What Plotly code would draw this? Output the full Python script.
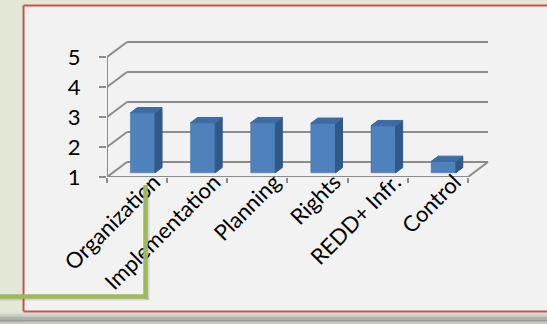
import plotly.graph_objects as go

categories = ["Organization", "Implementation", "Planning", "Rights", "REDD+ Infr.", "Control"]
values = [3.0, 2.67, 2.67, 2.65, 2.57, 1.38]
y_ticks = [1, 2, 3, 4, 5]

# 3D geometry (data units)
DX, DY = 0.333, 0.5      # depth offset of the back wall
D0, D1 = 0.28, 0.63      # bar front / back depth fractions
BW = 0.41                # bar width (category units)
BASE = 1
LOFF = 0.28              # label end offset from category centre

GRID = '#8C8C8C'
FRONT, SIDE, TOP = '#4F81BD', '#30598A', '#3D6BA3'

fig = go.Figure()
shapes = []


def dline(xs, ys, color=GRID, width=2):
    for k in range(len(xs) - 1):
        shapes.append(dict(type='line', xref='x', yref='y', x0=xs[k], y0=ys[k],
                           x1=xs[k + 1], y1=ys[k + 1], line=dict(color=color, width=width),
                           layer='below'))


def poly(xs, ys, color):
    fig.add_trace(go.Scatter(x=xs + [xs[0]], y=ys + [ys[0]], mode='lines', fill='toself',
                             fillcolor=color, line=dict(color=color, width=1),
                             hoverinfo='skip', showlegend=False, cliponaxis=False))


n = len(categories)
# back wall + side wall gridlines
for t in y_ticks:
    dline([0, DX, n + DX], [t, t + DY, t + DY])
# floor front edge and right edge
dline([0, n, n + DX], [BASE, BASE, BASE + DY])
# front vertical axis
dline([0, 0], [BASE, y_ticks[-1]])

# bars
ddx, ddy = (D1 - D0) * DX, (D1 - D0) * DY
fig.add_trace(go.Bar(x=[i + 0.5 + D0 * DX for i in range(n)],
                     y=[v - BASE for v in values],
                     base=[BASE + D0 * DY] * n, width=BW,
                     marker=dict(color=FRONT, line=dict(color='#44729F', width=0.5)),
                     showlegend=False, hoverinfo='skip', cliponaxis=False))
for i, v in enumerate(values):
    xl = i + 0.5 - BW / 2 + D0 * DX
    xr = xl + BW
    yb = BASE + D0 * DY
    yt = v + D0 * DY
    poly([xr, xr, xr + ddx, xr + ddx], [yb, yt, yt + ddy, yb + ddy], SIDE)
    poly([xl, xr, xr + ddx, xl + ddx], [yt, yt, yt + ddy, yt + ddy], TOP)

# ---- decorative frame (pixel -> paper conversions) ----
L, T, W, H = 107, 39, 385, 138


def px(x):
    return (x - L) / W


def py(y):
    return (T + H - y) / H


def rect(x0, y0, x1, y1, color, layer='below'):
    shapes.append(dict(type='rect', xref='paper', yref='paper', x0=px(x0), x1=px(x1),
                       y0=py(y1), y1=py(y0), fillcolor=color, line=dict(width=0), layer=layer))


def seg(x0, y0, x1, y1, color, width, layer='below'):
    shapes.append(dict(type='line', xref='paper', yref='paper', x0=px(x0), x1=px(x1),
                       y0=py(y0), y1=py(y1), line=dict(color=color, width=width), layer=layer))


rect(0, 0, 22.5, 324, '#E2E8D5')
rect(0, 0, 547, 4.5, '#E2E8D5')
# bottom shaded strip
strip = ['#DADDD2', '#CDD1C5', '#BFC3B7', '#B0B4A8', '#A2A69A', '#979B8F', '#A9ADA1', '#CFD3C7']
for k, c in enumerate(strip):
    rect(0, 312.5 + k * 1.45, 547, 312.5 + (k + 1) * 1.45, c)
# red border
seg(23.5, 5.5, 547, 5.5, '#C9504F', 2)
seg(23.5, 5.5, 23.5, 311.5, '#C9504F', 2)
seg(23.5, 311.5, 547, 311.5, '#C9504F', 2)
# green L-shape with soft shadow
seg(0, 299, 148.5, 299, 'rgba(0,0,0,0.12)', 3, 'above')
seg(148, 188, 148, 300, 'rgba(0,0,0,0.12)', 3, 'above')
seg(0, 296.5, 147.5, 296.5, '#9BBB59', 4.5, 'above')
seg(145.5, 185, 145.5, 298.5, '#9BBB59', 4.5, 'above')

# background shapes first so gridlines paint over them
bg = [s for s in shapes if s['xref'] == 'paper' and s['layer'] == 'below']
rest = [s for s in shapes if s not in bg]

FONT = 'Lato'
fig.update_layout(
    width=547, height=324,
    margin=dict(l=L, r=547 - L - W, t=T, b=324 - T - H, autoexpand=False),
    paper_bgcolor='#F2F2F2', plot_bgcolor='rgba(0,0,0,0)',
    shapes=bg + rest, showlegend=False,
    font=dict(family=FONT, color='#000000'),
    xaxis=dict(range=[0, n + 0.4], showgrid=False, zeroline=False, showline=False,
               tickmode='array', tickvals=[i + 0.5 + LOFF for i in range(n)], ticktext=categories,
               tickangle=-45, ticks='', ticklabelstandoff=-13,
               tickfont=dict(size=22, family=FONT, color='#000'),
               minor=dict(tickmode='array', tickvals=list(range(n + 1)), ticks='outside',
                          ticklen=5, tickwidth=2, tickcolor=GRID, showgrid=False)),
    yaxis=dict(range=[BASE, 5.6], showgrid=False, zeroline=False, showline=False,
               tickmode='array', tickvals=y_ticks, ticktext=[str(t) for t in y_ticks],
               ticks='outside', ticklen=7, tickwidth=2, tickcolor=GRID,
               ticklabelstandoff=14, tickfont=dict(size=22, family=FONT, color='#000')),
)

fig.write_html("out.html")
